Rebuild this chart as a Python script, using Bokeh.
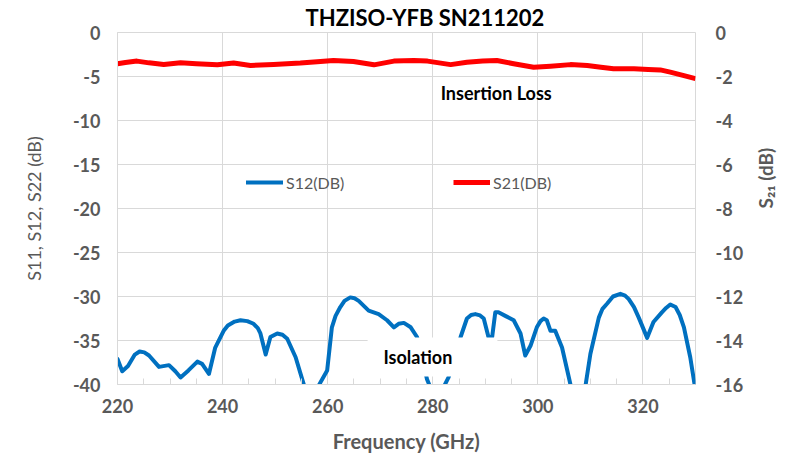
import math
from bokeh.plotting import figure
from bokeh.models import (Range1d, LinearAxis, FixedTicker, Legend, LegendItem,
                          Label, BoxAnnotation, Title)
from bokeh.embed import file_html
from bokeh.resources import INLINE

# ---------------- data ----------------
freq_s12 = [220.0, 220.9, 222.0, 223.3, 224.2, 225.1, 226.0, 227.9, 229.8, 231.0,
            232.0, 233.5, 235.2, 236.1, 237.4, 238.6, 240.2, 241.0, 242.3, 243.4,
            244.7, 245.9, 246.7, 247.2, 248.2, 249.1, 250.4, 251.4, 252.3, 253.9,
            255.5, 257.0, 258.3, 259.9, 260.8, 261.5, 262.4, 263.2, 264.3, 265.1,
            265.9, 267.8, 269.7, 271.3, 272.6, 273.5, 274.5, 275.8, 277.0, 278.0,
            278.9, 280.7, 282.4, 283.0, 284.2, 285.3, 286.5, 287.3, 288.1, 289.0,
            289.7, 290.6, 291.3, 291.9, 292.5, 293.8, 295.4, 296.7, 297.6, 298.6,
            299.8, 300.5, 301.1, 301.7, 302.4, 303.3, 304.6, 305.9, 306.2, 307.6,
            309.1, 310.0, 311.6, 312.3, 313.2, 314.3, 315.7, 316.6, 317.3, 318.3,
            319.2, 320.8, 322.0, 323.6, 324.4, 325.2, 326.2, 327.0, 327.8, 329.0,
            329.8, 330.0]
s12_db = [-37.1, -38.5, -37.9, -36.6, -36.25, -36.35, -36.7, -38.0, -37.8, -38.5,
          -39.2, -38.4, -37.4, -37.65, -38.8, -35.8, -33.9, -33.3, -32.85, -32.7,
          -32.8, -33.1, -33.6, -34.2, -36.6, -34.6, -34.2, -34.35, -34.8, -36.9,
          -40.1, -43.0, -40.1, -38.4, -33.5, -32.2, -31.2, -30.5, -30.1, -30.2,
          -30.5, -31.6, -32.0, -32.7, -33.5, -33.1, -33.0, -33.5, -34.6, -37.0,
          -39.4, -42.0, -39.9, -39.2, -37.0, -34.6, -32.5, -32.1, -32.0, -32.15,
          -32.5, -34.6, -34.6, -31.8, -31.8, -32.2, -32.7, -34.2, -36.7, -35.6,
          -33.5, -32.8, -32.5, -32.7, -33.9, -33.9, -35.8, -39.2, -40.0, -45.0,
          -40.0, -36.5, -32.4, -31.4, -30.8, -30.0, -29.7, -29.9, -30.3, -31.2,
          -32.4, -34.7, -32.9, -31.8, -31.3, -30.9, -31.2, -32.1, -33.5, -36.9,
          -39.9, -40.5]

freq_s21 = [220.0, 221.5, 223.7, 226.0, 228.8, 232.0, 235.0, 239.0, 242.1, 245.3,
            249.7, 254.8, 258.0, 261.1, 264.9, 268.8, 272.6, 276.4, 279.0, 283.4,
            286.5, 289.5, 292.2, 295.4, 299.2, 302.4, 306.2, 309.4, 312.0, 314.4,
            318.3, 321.0, 323.3, 325.2, 327.8, 330.0]
s21_db = [-1.42, -1.36, -1.30, -1.38, -1.45, -1.38, -1.42, -1.47, -1.39, -1.50,
          -1.45, -1.39, -1.33, -1.27, -1.32, -1.47, -1.30, -1.27, -1.30, -1.46,
          -1.35, -1.30, -1.27, -1.42, -1.58, -1.53, -1.46, -1.50, -1.58, -1.65,
          -1.65, -1.68, -1.70, -1.80, -1.96, -2.10]

x_ticks = [220, 240, 260, 280, 300, 320]
x_minor_ticks = [225, 230, 235, 245, 250, 255, 265, 270, 275, 285, 290, 295,
                 305, 310, 315, 325]
left_ticks = [0, -5, -10, -15, -20, -25, -30, -35, -40]
right_ticks = [0, -2, -4, -6, -8, -10, -12, -14, -16]

GRID = "#d9d9d9"
TXT = "#595959"
FONT = "Lato"

p = figure(frame_width=578, frame_height=352,
           x_range=Range1d(220, 330), y_range=Range1d(-40, 0),
           output_backend="svg", toolbar_location=None,
           min_border_left=117, min_border_right=94,
           min_border_top=32, min_border_bottom=71)
p.extra_y_ranges = {"s21": Range1d(-16, 0)}
p.outline_line_color = GRID
p.background_fill_color = "white"
p.border_fill_color = "white"

p.add_layout(Title(text="THZISO-YFB SN211202", align="left", offset=188,
                   text_font=FONT, text_font_style="bold", text_font_size="22px",
                   text_color="black", standoff=2, vertical_align="middle"), "above")

xt = FixedTicker(ticks=x_ticks, minor_ticks=x_minor_ticks)
yt = FixedTicker(ticks=left_ticks)

xa = p.xaxis[0]
xa.ticker = xt
xa.major_tick_in = 0
xa.major_tick_out = 0
xa.minor_tick_in = 6
xa.minor_tick_out = 0
xa.minor_tick_line_color = GRID
xa.axis_line_color = GRID
xa.major_label_text_font = FONT
xa.major_label_text_font_style = "bold"
xa.major_label_text_font_size = "18px"
xa.major_label_text_color = TXT
xa.major_label_standoff = 14
xa.axis_label = "Frequency (GHz)"
xa.axis_label_text_font = FONT
xa.axis_label_text_font_style = "bold"
xa.axis_label_text_font_size = "20px"
xa.axis_label_text_color = TXT
xa.axis_label_standoff = 13

ya = p.yaxis[0]
ya.ticker = yt
ya.major_tick_in = 0
ya.major_tick_out = 0
ya.minor_tick_in = 0
ya.minor_tick_out = 0
ya.axis_line_color = GRID
ya.major_label_text_font = FONT
ya.major_label_text_font_style = "bold"
ya.major_label_text_font_size = "18px"
ya.major_label_text_color = TXT
ya.major_label_standoff = 17
ya.major_label_overrides = {t: str(t) for t in left_ticks}
ya.axis_label = "S11, S12, S22 (dB)"
ya.axis_label_text_font = FONT
ya.axis_label_text_font_style = "normal"
ya.axis_label_text_font_size = "18px"
ya.axis_label_text_color = TXT
ya.axis_label_standoff = 25

ra = LinearAxis(y_range_name="s21", ticker=FixedTicker(ticks=right_ticks))
ra.major_tick_in = 0
ra.major_tick_out = 0
ra.minor_tick_in = 0
ra.minor_tick_out = 0
ra.axis_line_color = None
ra.major_label_text_font = FONT
ra.major_label_text_font_style = "bold"
ra.major_label_text_font_size = "18px"
ra.major_label_text_color = TXT
ra.major_label_standoff = 20
ra.major_label_overrides = {t: str(t) for t in right_ticks}
ra.axis_label = "S\u2082\u2081 (dB)"
ra.axis_label_text_font = FONT
ra.axis_label_text_font_style = "bold"
ra.axis_label_text_font_size = "19px"
ra.axis_label_text_color = TXT
ra.axis_label_standoff = 19
ra.axis_label_orientation = math.pi / 2
p.add_layout(ra, "right")

p.xgrid.ticker = xt
p.xgrid.grid_line_color = GRID
p.ygrid.ticker = yt
p.ygrid.grid_line_color = GRID

blue = p.line(freq_s12, s12_db, line_color="#0070C0", line_width=4,
              line_join="round", line_cap="round")
red = p.line(freq_s21, s21_db, y_range_name="s21", line_color="#FF0000",
             line_width=5, line_join="round")

for r, lab, loc in [(blue, "S12(DB)", (129, 192)), (red, "S21(DB)", (336, 192))]:
    lg = Legend(items=[LegendItem(label=lab, renderers=[r])], location=loc,
                padding=0, margin=0, spacing=0, glyph_width=37, glyph_height=20,
                label_height=20, label_standoff=3,
                background_fill_alpha=0, border_line_color=None,
                label_text_font=FONT, label_text_font_size="16px",
                label_text_color=TXT)
    p.add_layout(lg)

box = BoxAnnotation(left=267.6, right=292.3, top=-34.66, bottom=-39.1,
                    fill_color="white", fill_alpha=1.0, line_color=None)
p.add_layout(box)

p.add_layout(Label(x=281.5, y=-6.9, text="Insertion Loss", text_font=FONT,
                   text_font_style="bold", text_font_size="18px",
                   text_color="black", text_baseline="middle"))
p.add_layout(Label(x=270.6, y=-36.9, text="Isolation", text_font=FONT,
                   text_font_style="bold", text_font_size="18px",
                   text_color="black", text_baseline="middle"))

open("out.html", "w").write(file_html(p, INLINE))
